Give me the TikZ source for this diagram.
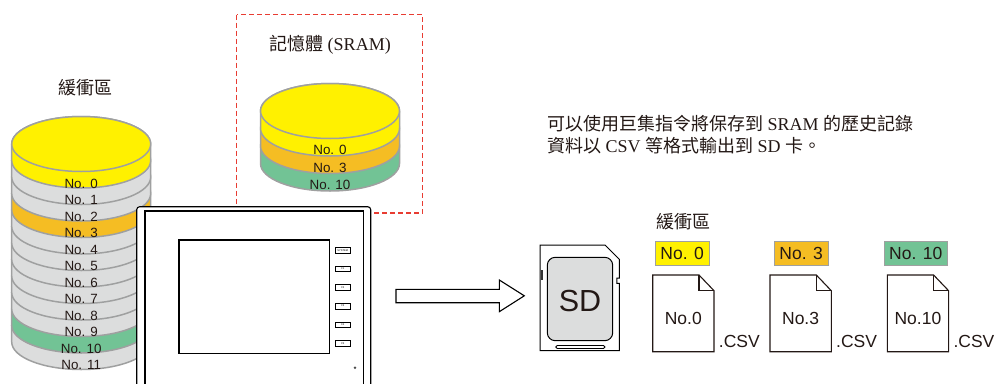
\documentclass[tikz,border=0pt]{standalone}
\usepackage{fontspec}
\setmainfont{Liberation Serif}
\newfontfamily\cjk{Noto Sans CJK TC}
\newfontfamily\arial{Liberation Sans}
\usetikzlibrary{positioning}

\definecolor{discyellow}{RGB}{255,241,0}
\definecolor{discorange}{RGB}{245,189,35}
\definecolor{discgreen}{RGB}{114,195,149}
\definecolor{discgrey}{RGB}{220,221,221}
\definecolor{discline}{RGB}{159,160,160}
\definecolor{ink}{RGB}{35,24,21}
\definecolor{dashred}{RGB}{232,60,50}

\def\discrx{69.5}
\def\discry{27.5}

\tikzset{disc/.style={draw=discline,line width=1.5pt}}
\tikzset{disclabel/.style={inner sep=0pt,text=ink,
font=\arial\fontsize{13.4}{14}\selectfont}}
\tikzset{cjklabel/.style={inner sep=0pt,text=ink,
font=\cjk\fontsize{18}{20}\selectfont}}
\tikzset{tag/.style={rectangle,draw=discline,line width=0.8pt,inner sep=0pt,
minimum height=23.3pt,text=ink,font=\arial\fontsize{17.5}{18}\selectfont}}
\tikzset{doc/.style={draw=ink,line width=1.1pt,fill=white,line join=miter}}
\tikzset{doclabel/.style={inner sep=0pt,text=ink,
font=\arial\fontsize{17.5}{18}\selectfont}}
\tikzset{key/.style={rectangle,draw=black,line width=0.8pt,inner sep=0pt,
minimum width=15.7pt,minimum height=5.6pt,font=\arial\fontsize{2.6}{3}\selectfont}}

% one slice of a stack: centre x, y of top centre, thickness, colour
\newcommand\stackdisc[4]{%
  \filldraw[disc,fill=#4] (#1-\discrx,#2) -- (#1-\discrx,#2+#3)
    arc[start angle=180,end angle=0,x radius=\discrx,y radius=\discry]
    -- (#1+\discrx,#2)
    arc[start angle=0,end angle=-180,x radius=\discrx,y radius=\discry] -- cycle;}

\begin{document}
\begin{tikzpicture}[x=1pt,y=-1pt]
\clip (0,0) rectangle (999,383);

% buffer stack
\node[cjklabel] (buftitle) at (85,88) {緩衝區};
\foreach \k/\col in {11/discgrey,10/discgreen,9/discgrey,8/discgrey,7/discgrey,
  6/discgrey,5/discgrey,4/discgrey,3/discorange,2/discgrey,1/discgrey,0/discyellow}{
  \pgfmathsetmacro\yt{144+16.5*\k}
  \stackdisc{81.2}{\yt}{16.5}{\col}
}
\filldraw[disc,fill=discyellow] (81.2,144) ellipse[x radius=\discrx,y radius=\discry];
\foreach \k in {0,...,11}
  \node[disclabel] (buf\k) at (81.2,{183.5+16.5*\k}) {No. \k};

% SRAM
\draw[dashred,line width=1.2pt,dash pattern=on 5pt off 3pt] (236.5,14.5) rectangle (422.5,213);
\node[cjklabel,font=\fontsize{18}{20}\selectfont] (sramtitle) at (330,45) {{\cjk 記憶體} (SRAM)};
\foreach \k/\col in {2/discgreen,1/discorange,0/discyellow}{
  \pgfmathsetmacro\yt{111+17.5*\k}
  \stackdisc{330}{\yt}{17.5}{\col}
}
\filldraw[disc,fill=discyellow] (330,111) ellipse[x radius=\discrx,y radius=\discry];
\foreach \n [count=\k from 0] in {0,3,10}
  \node[disclabel] (sram\n) at (330,{150+17.5*\k}) {No. \n};

% panel
\draw[line width=1.1pt,fill=white,rounded corners=3pt] (136.7,206.7) rectangle (370.7,400);
\draw[line width=1.5pt] (145,211) rectangle (363.3,400);
\draw[line width=1.5pt] (179,240) rectangle (329.3,353.3);
\foreach \t [count=\i from 0] in {SYSTEM,F1,F2,F3,F4,F5}
  \node[key] (key\i) at (342.8,{250.3+18.6*\i}) {\t};
\fill[black!70] (355,367.7) circle (1.4);

\draw[line width=1.1pt,fill=white,line join=miter] (396,289.3) -- (499.3,289.3) -- (499.3,280)
  -- (524.3,295.8) -- (499.3,311.7) -- (499.3,302.7) -- (396,302.7) -- cycle;

% SD card
\draw[line width=1pt,fill=white] (540,245) -- (605,245) -- (619.3,259.3) -- (619.3,278)
  -- (616.8,278) -- (616.8,283.3) -- (619.3,283.3) -- (619.3,350.7) -- (540,350.7) -- cycle;
\fill[black!80] (540.5,270) rectangle (543,280);
\draw[line width=1pt,fill=discgrey,rounded corners=8pt] (547.3,257.3) rectangle (612.7,340.7);
\node[inner sep=0pt,text=ink,font=\arial\fontsize{30.5}{31}\selectfont] (sd) at (580,300.7) {SD};
\draw[line width=0.8pt,rounded corners=1.5pt] (555.7,345.5) rectangle (605,348.5);

\node[anchor=north west,align=left,inner sep=0pt,text=ink,font=\fontsize{18}{21.7}\selectfont]
  (note) at (547,115.5) {{\cjk 可以使用巨集指令將保存到} SRAM {\cjk 的歷史記錄}\\
  {\cjk 資料以} CSV {\cjk 等格式輸出到} SD {\cjk 卡。}};

% files
\node[cjklabel] (filetitle) at (683,221.7) {緩衝區};
\node[tag,fill=discyellow,minimum width=54.3pt] (tag0) at (682.2,253.3) {No. 0};
\node[tag,fill=discorange,minimum width=54.3pt] (tag3) at (801.2,253.3) {No. 3};
\node[tag,fill=discgreen,minimum width=63pt] (tag10) at (915.8,253.3) {No. 10};
\foreach \n/\l in {0/652.7,3/770,10/887.3}{
  \draw[doc] (\l,275) -- ++(46.3,0) -- ++(15,15.7) -- (\l+61.3,351.7) -- (\l,351.7) -- cycle;
  \draw[doc,fill=none] (\l+46.3,275) |- (\l+61.3,290.7);
  \node[doclabel] (file\n) at (\l+30.6,318.3) {No.\n};
  \node[doclabel,anchor=west] (ext\n) at (\l+66,341.7) {.CSV};
}
\end{tikzpicture}
\end{document}
